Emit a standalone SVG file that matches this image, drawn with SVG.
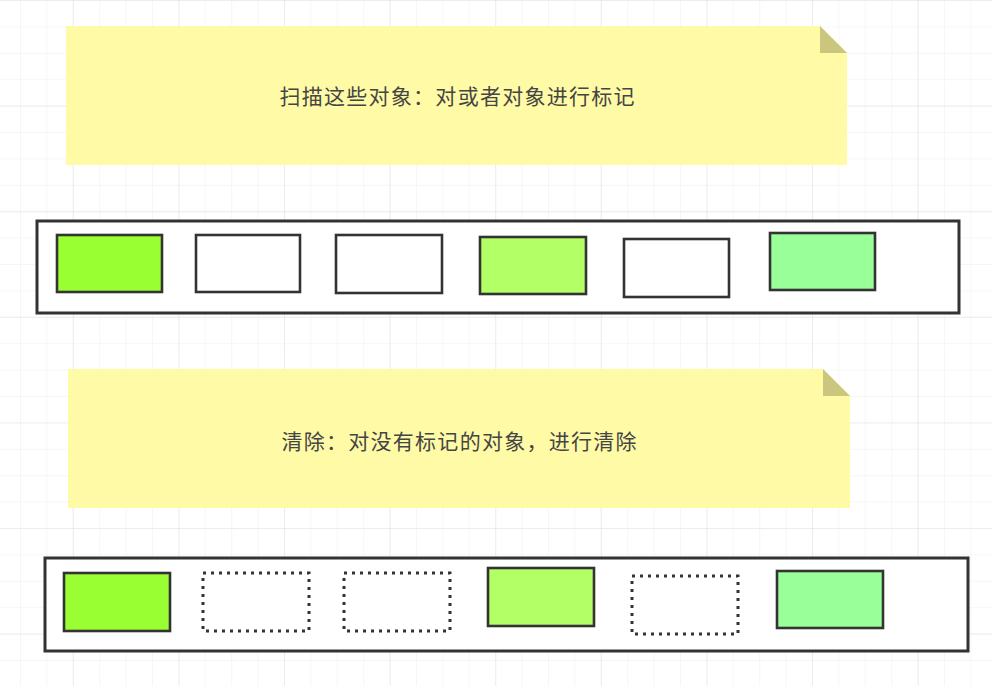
<svg xmlns="http://www.w3.org/2000/svg" width="992" height="686" viewBox="0 0 992 686">
<defs>
<pattern id="minor" x="20" y="0" width="26.4" height="26.4" patternUnits="userSpaceOnUse">
<path d="M0 0V26.4M0 0H26.4" fill="none" stroke="#ededed" stroke-width="1"/>
</pattern>
<pattern id="major" x="72.8" y="0" width="105.6" height="105.6" patternUnits="userSpaceOnUse">
<path d="M0 0V105.6M0 0H105.6" fill="none" stroke="#e2e2e2" stroke-width="1"/>
</pattern>
</defs>
<style>
.note{fill:#fffaa6}
.fold{fill:#cac67e}
.txt{font-family:"Noto Sans CJK SC","Noto Sans",sans-serif;font-size:21px;fill:#454545}
.box{fill:#fff;stroke:#333;stroke-width:3}
.obj{stroke:#333;stroke-width:2.6}
.g1{fill:#99ff33}
.g2{fill:#b3ff66}
.g3{fill:#99ff99}
.w{fill:#fff}
.dot{fill:#fff;stroke:#333;stroke-width:3;stroke-dasharray:3 5}
</style>
<rect width="992" height="686" fill="#fff"/>
<rect width="992" height="686" fill="url(#minor)"/>
<rect width="992" height="686" fill="url(#major)"/>

<g id="note1">
<path class="note" d="M66 26H820L847 53V165H66Z"/>
<path class="fold" d="M820 26V53H847Z"/>
<text class="txt" x="457" y="104" text-anchor="middle" textLength="355" lengthAdjust="spacing">扫描这些对象：对或者对象进行标记</text>
</g>

<g id="heap1">
<rect class="box" x="37" y="221" width="922" height="92"/>
<g id="h1o1"><rect class="obj g1" x="57" y="235" width="105" height="57"/></g>
<g id="h1o2"><rect class="obj w" x="196" y="235" width="104" height="57"/></g>
<g id="h1o3"><rect class="obj w" x="336" y="235" width="106" height="58"/></g>
<g id="h1o4"><rect class="obj g2" x="480" y="237" width="106" height="57"/></g>
<g id="h1o5"><rect class="obj w" x="624" y="239" width="105" height="58"/></g>
<g id="h1o6"><rect class="obj g3" x="770" y="233" width="105" height="57"/></g>
</g>

<g id="note2">
<path class="note" d="M68 369H823L850 396V508H68Z"/>
<path class="fold" d="M823 369V396H850Z"/>
<text class="txt" x="459" y="449" text-anchor="middle" textLength="355" lengthAdjust="spacing">清除：对没有标记的对象，进行清除</text>
</g>

<g id="heap2">
<rect class="box" x="45" y="558" width="923" height="93"/>
<g id="h2o1"><rect class="obj g1" x="64" y="573" width="106" height="58"/></g>
<g id="h2o2"><rect class="dot" x="203" y="573" width="106" height="58"/></g>
<g id="h2o3"><rect class="dot" x="344" y="573" width="106" height="58"/></g>
<g id="h2o4"><rect class="obj g2" x="488" y="568" width="106" height="58"/></g>
<g id="h2o5"><rect class="dot" x="632" y="576" width="106" height="58"/></g>
<g id="h2o6"><rect class="obj g3" x="777" y="571" width="106" height="57"/></g>
</g>
<g id="connectors"/>
</svg>
